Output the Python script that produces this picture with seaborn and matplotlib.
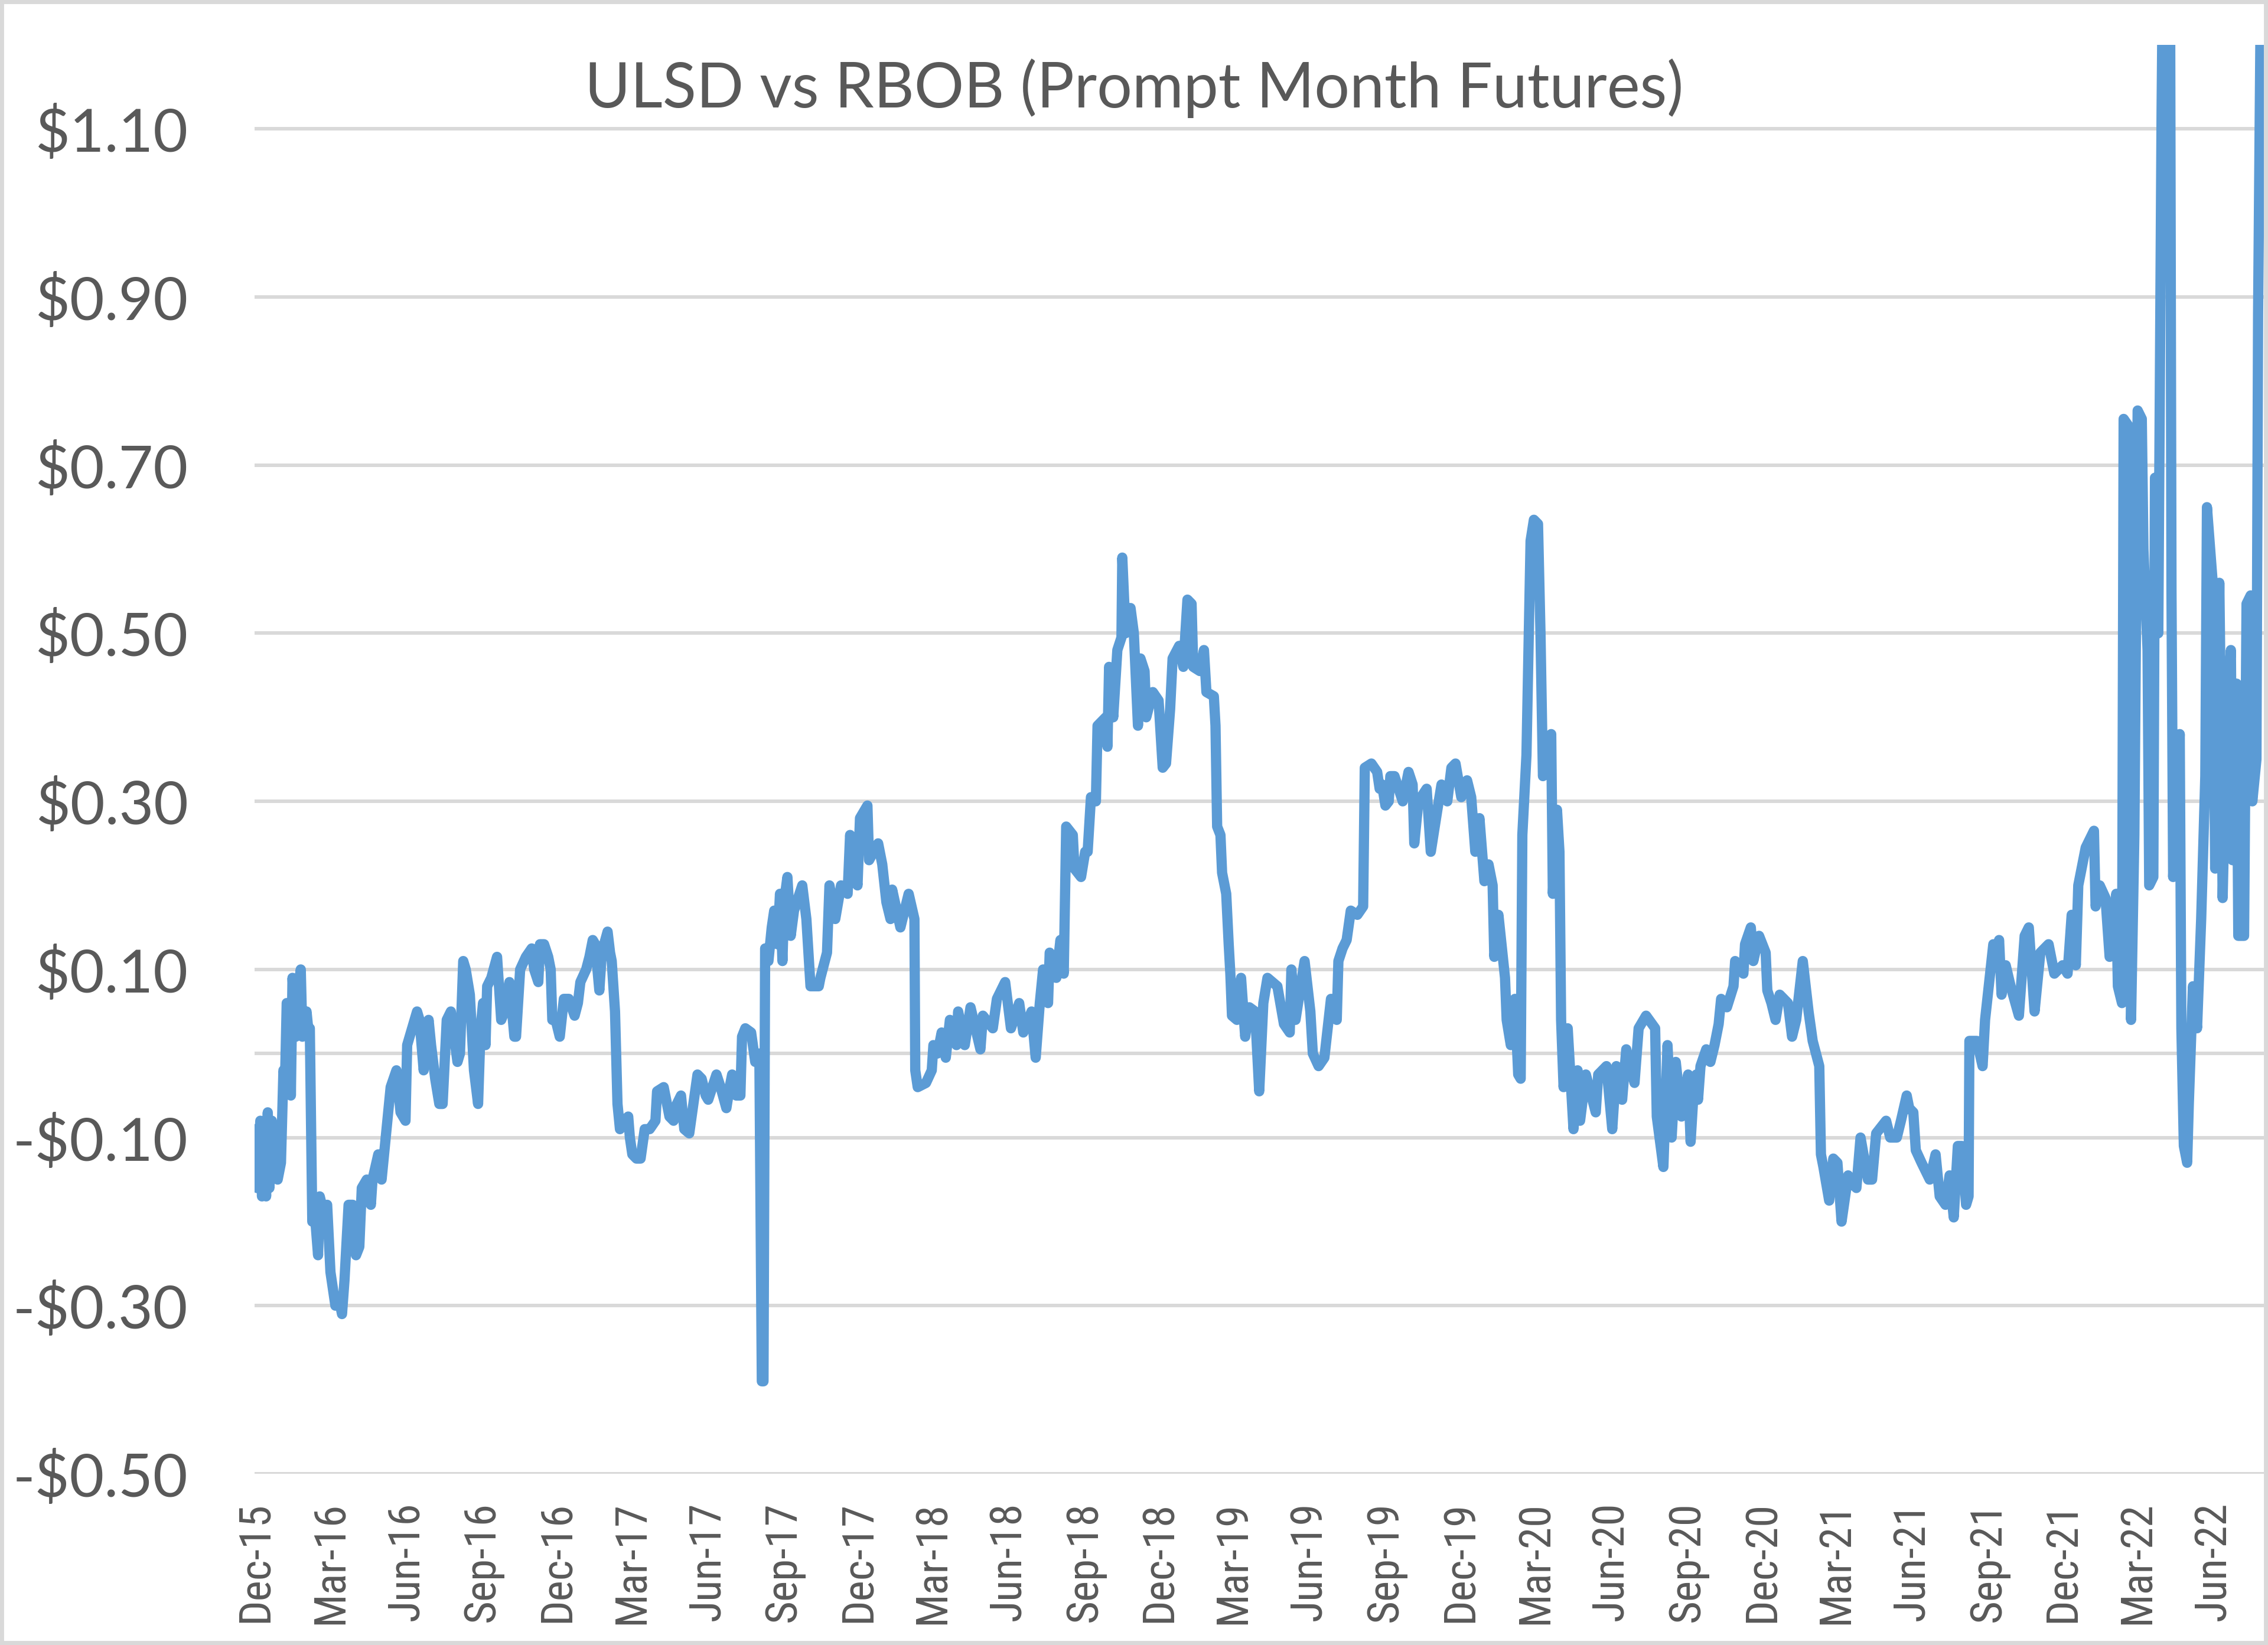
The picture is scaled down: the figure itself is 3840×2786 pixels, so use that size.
import numpy as np
import pandas as pd
import matplotlib
matplotlib.use('Agg')
import matplotlib.pyplot as plt
from matplotlib import font_manager
from matplotlib.patches import Rectangle
import seaborn as sns

# ULSD minus RBOB, prompt month futures ($/gal)
d15 = ['12-23', '12-25', '12-29', '12-31']
v15 = [-0.09, -0.16, -0.08, -0.17]

d16 = ['01-02', '01-05', '01-07', '01-09', '01-12', '01-14', '01-19', '01-23', '01-26', '01-28',
       '01-30', '02-03', '02-04', '02-06', '02-10', '02-12', '02-16', '02-18', '02-23', '02-25',
       '02-27', '03-01', '03-04', '03-08', '03-10', '03-15', '03-19', '03-23', '03-29', '04-02',
       '04-06', '04-09', '04-14', '04-19', '04-23', '04-27', '04-30', '05-06', '05-11', '05-13',
       '05-20', '05-24', '05-28', '06-02', '06-04', '06-11', '06-16', '06-22', '06-24', '06-30',
       '07-06', '07-09', '07-14', '07-20', '07-23', '07-28', '08-02', '08-06', '08-11', '08-16',
       '08-20', '08-24', '08-27', '08-31', '09-03', '09-08', '09-13', '09-18', '09-21', '09-24',
       '09-27', '09-29', '10-04', '10-11', '10-16', '10-20', '10-26', '11-01', '11-03', '11-08',
       '11-15', '11-22', '11-25', '11-30', '12-02', '12-07', '12-12', '12-15', '12-17', '12-21',
       '12-26', '12-31']
v16 = [-0.09, -0.17, -0.07, -0.16, -0.08, -0.10, -0.15, -0.13, -0.02, -0.03,
       0.06, 0.05, -0.05, 0.09, 0.02, 0.07, 0.10, 0.02, 0.05, 0.03,
       0.03, -0.20, -0.19, -0.24, -0.17, -0.19, -0.18, -0.26, -0.30, -0.29,
       -0.31, -0.27, -0.18, -0.18, -0.24, -0.23, -0.16, -0.15, -0.18, -0.15,
       -0.12, -0.15, -0.11, -0.06, -0.04, -0.02, -0.07, -0.08, 0.01, 0.03,
       0.05, 0.04, -0.02, 0.04, 0.01, -0.03, -0.06, -0.06, 0.04, 0.05,
       0.02, -0.01, 0.00, 0.11, 0.10, 0.07, -0.02, -0.06, 0.03, 0.06,
       0.01, 0.08, 0.09, 0.115, 0.04, 0.05, 0.085, 0.02, 0.02, 0.10,
       0.115, 0.125, 0.10, 0.085, 0.13, 0.13, 0.115, 0.10, 0.04, 0.04,
       0.02, 0.065]

d17 = ['01-06', '01-13', '01-17', '01-20', '01-27', '01-31', '02-04', '02-07', '02-12', '02-15',
       '02-22', '02-25', '02-27', '03-03', '03-06', '03-09', '03-14', '03-19', '03-21', '03-24',
       '03-29', '04-03', '04-08', '04-14', '04-21', '04-23', '05-01', '05-03', '05-08', '05-13',
       '05-17', '05-22', '05-26', '06-01', '06-06', '06-11', '06-16', '06-21', '06-24', '07-04',
       '07-09', '07-16', '07-20', '07-23', '07-28', '08-02', '08-04', '08-08', '08-15', '08-20',
       '08-25', '08-28', '08-30', '09-01', '09-05', '09-09', '09-12', '09-16', '09-19', '09-22',
       '09-24', '09-28', '10-02', '10-06', '10-16', '10-21', '10-26', '11-05', '11-07', '11-15',
       '11-18', '11-25', '12-02', '12-10', '12-13', '12-22', '12-25']
v17 = [0.065, 0.045, 0.06, 0.085, 0.10, 0.115, 0.135, 0.13, 0.075, 0.12,
       0.145, 0.12, 0.11, 0.05, -0.06, -0.09, -0.08, -0.075, -0.10, -0.12,
       -0.125, -0.125, -0.09, -0.09, -0.08, -0.045, -0.04, -0.05, -0.075, -0.08,
       -0.06, -0.05, -0.09, -0.095, -0.06, -0.025, -0.03, -0.05, -0.055, -0.025,
       -0.04, -0.065, -0.04, -0.025, -0.05, -0.05, 0.02, 0.03, 0.025, -0.01,
       0.00, -0.39, -0.39, 0.125, 0.11, 0.15, 0.17, 0.13, 0.19, 0.11,
       0.18, 0.21, 0.14, 0.17, 0.20, 0.16, 0.08, 0.08, 0.09, 0.12,
       0.20, 0.16, 0.20, 0.19, 0.26, 0.20, 0.28]

d18 = ['01-03', '01-05', '01-16', '01-21', '01-26', '01-31', '02-02', '02-12', '02-22', '03-01',
       '03-02', '03-05', '03-15', '03-22', '03-24', '03-29', '04-03', '04-08', '04-13', '04-21',
       '04-23', '05-01', '05-08', '05-20', '05-23', '06-04', '06-09', '06-19', '06-26', '07-06',
       '07-11', '07-21', '07-26', '07-31', '08-04', '08-10', '08-12', '08-20', '08-25', '08-29',
       '09-01', '09-09', '09-11', '09-19', '09-24', '09-27', '10-01', '10-07', '10-09', '10-19',
       '10-21', '10-23', '10-28', '11-02', '11-07', '11-08', '11-12', '11-18', '11-22', '11-27',
       '11-30', '12-05', '12-07', '12-15', '12-22', '12-27', '12-31']
v18 = [0.295, 0.23, 0.25, 0.225, 0.18, 0.16, 0.195, 0.15, 0.19, 0.16,
       -0.02, -0.04, -0.035, -0.02, 0.01, 0.00, 0.025, -0.005, 0.04, 0.01,
       0.05, 0.01, 0.055, 0.005, 0.045, 0.03, 0.065, 0.085, 0.03, 0.06,
       0.025, 0.05, -0.005, 0.06, 0.10, 0.06, 0.12, 0.09, 0.135, 0.095,
       0.27, 0.26, 0.22, 0.21, 0.24, 0.24, 0.305, 0.30, 0.39, 0.40,
       0.365, 0.46, 0.40, 0.48, 0.495, 0.59, 0.50, 0.53, 0.50, 0.39,
       0.47, 0.455, 0.40, 0.43, 0.42, 0.34, 0.345]

d19 = ['01-05', '01-08', '01-16', '01-21', '01-26', '01-31', '02-02', '02-10', '02-15', '02-18',
       '02-27', '03-01', '03-03', '03-07', '03-09', '03-14', '03-17', '03-19', '03-21', '03-27',
       '04-01', '04-06', '04-11', '04-18', '04-23', '04-28', '05-03', '05-15', '05-23', '05-30',
       '06-01', '06-06', '06-17', '06-24', '06-27', '07-04', '07-11', '07-19', '07-26', '07-28',
       '08-02', '08-07', '08-12', '08-20', '08-27', '08-29', '09-06', '09-13', '09-16', '09-19',
       '09-23', '09-27', '09-29', '10-04', '10-14', '10-21', '10-26', '10-28', '11-02', '11-12',
       '11-17', '11-25', '11-30', '12-07', '12-12', '12-17', '12-24', '12-31']
v19 = [0.41, 0.47, 0.485, 0.46, 0.54, 0.535, 0.46, 0.455, 0.48, 0.43,
       0.425, 0.39, 0.27, 0.26, 0.215, 0.19, 0.13, 0.095, 0.045, 0.04,
       0.09, 0.02, 0.055, 0.05, -0.045, 0.06, 0.09, 0.08, 0.035, 0.025,
       0.10, 0.04, 0.11, 0.05, 0.00, -0.015, -0.005, 0.065, 0.04, 0.11,
       0.125, 0.135, 0.17, 0.165, 0.175, 0.34, 0.345, 0.335, 0.315, 0.32,
       0.295, 0.30, 0.33, 0.33, 0.30, 0.335, 0.32, 0.25, 0.30, 0.315,
       0.24, 0.29, 0.32, 0.30, 0.34, 0.345, 0.305, 0.325]

d20 = ['01-05', '01-10', '01-15', '01-21', '01-26', '01-31', '02-02', '02-07', '02-15', '02-17',
       '02-22', '02-27', '03-02', '03-05', '03-07', '03-12', '03-17', '03-21', '03-26', '03-29',
       '04-01', '04-06', '04-11', '04-13', '04-18', '04-21', '04-23', '04-26', '05-01', '05-08',
       '05-13', '05-16', '05-23', '06-04', '06-07', '06-17', '06-24', '06-29', '07-06', '07-11',
       '07-21', '07-26', '08-04', '08-15', '08-17', '08-25', '08-30', '09-04', '09-09', '09-16',
       '09-24', '09-27', '10-01', '10-04', '10-06', '10-09', '10-16', '10-21', '10-26', '10-31',
       '11-03', '11-10', '11-18', '11-20', '11-30', '12-02', '12-09', '12-12', '12-19', '12-27',
       '12-29']
v20 = [0.305, 0.24, 0.28, 0.205, 0.225, 0.20, 0.115, 0.165, 0.09, 0.04,
       0.01, 0.065, -0.025, -0.03, 0.26, 0.355, 0.61, 0.635, 0.63, 0.50,
       0.33, 0.36, 0.38, 0.19, 0.29, 0.24, 0.04, -0.04, 0.03, -0.09,
       -0.02, -0.08, -0.025, -0.07, -0.025, -0.015, -0.09, -0.015, -0.055, 0.005,
       -0.035, 0.03, 0.045, 0.03, -0.075, -0.135, 0.01, -0.10, -0.01, -0.075,
       -0.025, -0.105, -0.04, -0.025, -0.055, -0.015, 0.005, -0.01, 0.01, 0.035,
       0.065, 0.055, 0.08, 0.11, 0.095, 0.13, 0.15, 0.11, 0.14, 0.12,
       0.075]

d21 = ['01-03', '01-08', '01-13', '01-23', '01-28', '02-02', '02-10', '02-17', '02-22', '03-02',
       '03-04', '03-07', '03-14', '03-19', '03-24', '03-29', '04-06', '04-11', '04-16', '04-21',
       '04-30', '05-05', '05-10', '05-22', '05-27', '06-04', '06-09', '06-16', '06-19', '06-24',
       '06-27', '07-04', '07-14', '07-21', '07-26', '08-02', '08-07', '08-12', '08-17', '08-22',
       '08-27', '08-30', '08-31', '09-09', '09-16', '09-19', '09-24', '09-29', '10-04', '10-06',
       '10-09', '10-14', '10-20', '10-30', '11-06', '11-11', '11-18', '11-25', '12-05', '12-12',
       '12-22', '12-28']
v21 = [0.06, 0.04, 0.07, 0.06, 0.02, 0.04, 0.11, 0.05, 0.015, -0.015,
       -0.12, -0.135, -0.175, -0.125, -0.13, -0.20, -0.145, -0.155, -0.16, -0.10,
       -0.15, -0.15, -0.095, -0.08, -0.10, -0.10, -0.08, -0.05, -0.065, -0.07,
       -0.115, -0.13, -0.15, -0.12, -0.17, -0.18, -0.145, -0.195, -0.11, -0.11,
       -0.18, -0.17, 0.015, 0.015, -0.015, 0.04, 0.085, 0.13, 0.125, 0.135,
       0.07, 0.105, 0.08, 0.045, 0.14, 0.15, 0.05, 0.12, 0.13, 0.095,
       0.105, 0.095]

d22 = ['01-02', '01-07', '01-10', '01-19', '01-29', '01-31', '02-05', '02-12', '02-17', '02-25',
       '02-27', '03-04', '03-06', '03-13', '03-15', '03-19', '03-23', '03-28', '03-30', '04-04',
       '04-06', '04-11', '04-13', '04-17', '04-21', '04-24', '05-01', '05-03', '05-05', '05-13',
       '05-15', '05-18', '05-22', '05-24', '05-29', '06-03', '06-08', '06-13', '06-15', '06-22',
       '06-25', '06-30', '07-02', '07-04', '07-09', '07-14', '07-16', '07-21', '07-23', '07-30',
       '08-02', '08-07', '08-09', '08-14', '08-16', '08-20', '08-22']
v22 = [0.165, 0.105, 0.20, 0.245, 0.265, 0.175, 0.20, 0.185, 0.115, 0.19,
       0.08, 0.06, 0.755, 0.745, 0.04, 0.26, 0.765, 0.755, 0.60, 0.48,
       0.20, 0.21, 0.685, 0.50, 1.12, 1.45, 1.40, 0.55, 0.21, 0.38,
       0.03, -0.11, -0.13, -0.06, 0.08, 0.03, 0.16, 0.33, 0.65, 0.56,
       0.22, 0.56, 0.395, 0.185, 0.40, 0.48, 0.23, 0.44, 0.14, 0.14,
       0.535, 0.545, 0.30, 0.35, 0.88, 1.35, 1.40]

y_ticks = [-0.5, -0.3, -0.1, 0.1, 0.3, 0.5, 0.7, 0.9, 1.1]


def stamp(year, days):
    return [f'{year}-{d}' for d in days]


years = [(2015, d15, v15), (2016, d16, v16), (2017, d17, v17), (2018, d18, v18),
         (2019, d19, v19), (2020, d20, v20), (2021, d21, v21), (2022, d22, v22)]
date_str, spread = [], []
for yr, d, v in years:
    assert len(d) == len(v), yr
    date_str += stamp(yr, d)
    spread += v
dates = pd.to_datetime(date_str)
spread = np.array(spread)

sns.set_style('white')
plt.rcParams['font.family'] = ['Lato', 'DejaVu Sans']

# narrow face for the date labels if there is one, else Roboto a bit smaller
installed = {f.name for f in font_manager.fontManager.ttflist}
xfont, xsize = 'Roboto', 48
for name, size in [('Liberation Sans Narrow', 53), ('Roboto Condensed', 54)]:
    if name in installed:
        xfont, xsize = name, size
        break

W, H = 3840, 2786
fig = plt.figure(figsize=(W / 100, H / 100), dpi=100)
ax = fig.add_axes([431 / W, 1 - 2496 / H, (3833 - 431) / W, (2496 - 76) / H])

grey = '#D9D9D9'
txt = '#595959'

ax.set_ylim(-0.5, 1.2)
ax.set_yticks(y_ticks)
ax.set_yticklabels([('-$%.2f' % -v) if v < 0 else ('$%.2f' % v) for v in y_ticks])
ax.yaxis.grid(True, color=grey, linewidth=4.3)
ax.xaxis.grid(False)
ax.axhline(0, color=grey, linewidth=4.3, zorder=1)
ax.set_axisbelow(True)

sns.lineplot(x=dates, y=spread, ax=ax, color='#5B9BD5', linewidth=12.5,
             solid_joinstyle='round', estimator=None, zorder=3)

tick_dates = pd.date_range('2015-12-23', periods=27, freq=pd.DateOffset(months=3))
ax.set_xticks(tick_dates)
ax.set_xticklabels([d.strftime('%b-%y') for d in tick_dates], rotation=90,
                   family=[xfont, 'DejaVu Sans'], fontsize=xsize, color=txt)
ax.set_xlim(pd.Timestamp('2015-12-22'), pd.Timestamp('2022-08-23'))
ax.set_xlabel('')
ax.set_ylabel('')

ax.tick_params(axis='x', length=0, pad=34)
ax.tick_params(axis='y', length=0, pad=81, labelsize=73, labelcolor=txt)
for s in ax.spines.values():
    s.set_visible(False)

fig.text(0.5, 1 - 182 / H, 'ULSD vs RBOB (Prompt Month Futures)', ha='center',
         va='baseline', fontsize=76, color=txt)

fig.add_artist(Rectangle((0, 0), 1, 1, transform=fig.transFigure, fill=False,
                         edgecolor=grey, linewidth=10))

fig.savefig('out.png', dpi=100)
